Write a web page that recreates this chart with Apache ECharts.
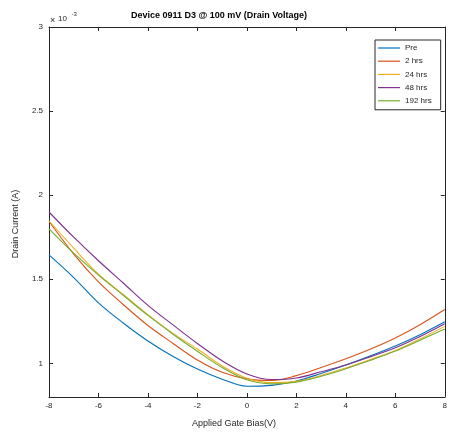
<!DOCTYPE html>
<html>
<head>
<meta charset="utf-8">
<script src="https://cdn.jsdelivr.net/npm/echarts@6/dist/echarts.min.js"></script>
<style>
  html, body { margin: 0; padding: 0; background: #fff; }
  #chart { width: 450px; height: 434px; }
</style>
</head>
<body>
<div id="chart"></div>
<script>
// Gate bias sweep (V)
const gateBias = [-8, -7, -6, -5, -4, -3, -2, -1, 0, 1, 2, 3, 4, 5, 6, 7, 8];

// Drain current in units of 1e-3 A, one array per stress time
const pre    = [1.645, 1.510, 1.360, 1.240, 1.133, 1.042, 0.966, 0.906, 0.864, 0.869, 0.895, 0.940, 0.990, 1.045, 1.103, 1.170, 1.247];
const hrs2   = [1.845, 1.650, 1.485, 1.350, 1.225, 1.120, 1.020, 0.947, 0.908, 0.898, 0.927, 0.975, 1.027, 1.085, 1.151, 1.230, 1.320];
const hrs24  = [1.848, 1.685, 1.530, 1.410, 1.290, 1.180, 1.085, 0.985, 0.912, 0.886, 0.893, 0.928, 0.973, 1.023, 1.077, 1.145, 1.220];
const hrs48  = [1.900, 1.750, 1.610, 1.478, 1.345, 1.230, 1.118, 1.015, 0.937, 0.904, 0.913, 0.950, 0.990, 1.040, 1.093, 1.160, 1.236];
const hrs192 = [1.800, 1.655, 1.525, 1.405, 1.285, 1.175, 1.072, 0.975, 0.902, 0.878, 0.888, 0.923, 0.968, 1.018, 1.073, 1.138, 1.205];

const seriesNames = ['Pre', '2 hrs', '24 hrs', '48 hrs', '192 hrs'];
const seriesData = [pre, hrs2, hrs24, hrs48, hrs192];
const colors = ['#0072BD', '#D95319', '#EDB120', '#7E2F8E', '#77AC30'];

// Tick positions
const yTicks = [1, 1.5, 2, 2.5, 3];

const FONT = '"Liberation Sans", Arial, Helvetica, sans-serif';
const INK = '#262626';

const chart = echarts.init(document.getElementById('chart'), null, { renderer: 'canvas' });

const axisLine = { show: true, onZero: false, lineStyle: { color: INK, width: 1 } };
const tick = { show: true, inside: true, length: 4, lineStyle: { color: INK, width: 1 } };

chart.setOption({
  animation: false,
  backgroundColor: '#ffffff',
  color: colors,
  textStyle: { fontFamily: FONT },
  grid: { left: 49, top: 27, right: 3, bottom: 37, containLabel: false },
  legend: {
    data: seriesNames,
    orient: 'vertical',
    left: 375,
    top: 40,
    padding: [3, 9, 4, 3],
    itemGap: 3.2,
    itemWidth: 22,
    itemHeight: 1.2,
    icon: 'rect',
    borderColor: INK,
    borderWidth: 1,
    backgroundColor: '#ffffff',
    textStyle: { fontSize: 8, lineHeight: 10, color: INK, fontFamily: FONT }
  },
  xAxis: [
    {
      type: 'value', min: -8, max: 8, interval: 2, position: 'bottom',
      axisLine: axisLine, axisTick: tick,
      splitLine: { show: false },
      axisLabel: { fontSize: 8, color: INK, margin: 5, fontFamily: FONT }
    },
    {
      type: 'value', min: -8, max: 8, interval: 2, position: 'top',
      axisLine: axisLine, axisTick: tick,
      splitLine: { show: false }, axisLabel: { show: false }
    }
  ],
  yAxis: [
    {
      type: 'value', min: 0.8, max: 3, position: 'left',
      axisLine: axisLine,
      axisTick: Object.assign({}, tick, { customValues: yTicks }),
      splitLine: { show: false },
      axisLabel: { fontSize: 8, color: INK, margin: 6, fontFamily: FONT, customValues: yTicks }
    },
    {
      type: 'value', min: 0.8, max: 3, position: 'right',
      axisLine: axisLine,
      axisTick: Object.assign({}, tick, { customValues: yTicks }),
      splitLine: { show: false },
      axisLabel: { show: false }
    }
  ],
  series: seriesNames.map((name, i) => ({
    name: name,
    type: 'line',
    xAxisIndex: 0,
    yAxisIndex: 0,
    data: gateBias.map((x, j) => [x, seriesData[i][j]]),
    smooth: 0.35,
    showSymbol: false,
    symbol: 'none',
    lineStyle: { width: 1.1, color: colors[i] },
    itemStyle: { color: colors[i] },
    z: 2 + i
  })),
  graphic: [
    {
      type: 'text', x: 219, y: 16,
      style: {
        text: 'Device 0911 D3 @ 100 mV (Drain Voltage)',
        font: 'bold 9px ' + FONT, fill: '#000', textAlign: 'center', textVerticalAlign: 'middle'
      }
    },
    {
      type: 'text', x: 234, y: 424,
      style: {
        text: 'Applied Gate Bias(V)',
        font: '9px ' + FONT, fill: INK, textAlign: 'center', textVerticalAlign: 'middle'
      }
    },
    {
      type: 'text', x: 16, y: 224, rotation: Math.PI / 2,
      style: {
        text: 'Drain Current (A)',
        font: '9px ' + FONT, fill: INK, textAlign: 'center', textVerticalAlign: 'middle'
      }
    },
    {
      type: 'text', x: 50, y: 21,
      style: { text: '×', font: '9px ' + FONT, fill: INK, textVerticalAlign: 'middle' }
    },
    {
      type: 'text', x: 58, y: 18.3,
      style: { text: '10', font: '8px ' + FONT, fill: INK, textVerticalAlign: 'middle' }
    },
    {
      type: 'text', x: 71.5, y: 14.3,
      style: { text: '-3', font: '6px ' + FONT, fill: INK, textVerticalAlign: 'middle' }
    }
  ]
});
</script>
</body>
</html>
